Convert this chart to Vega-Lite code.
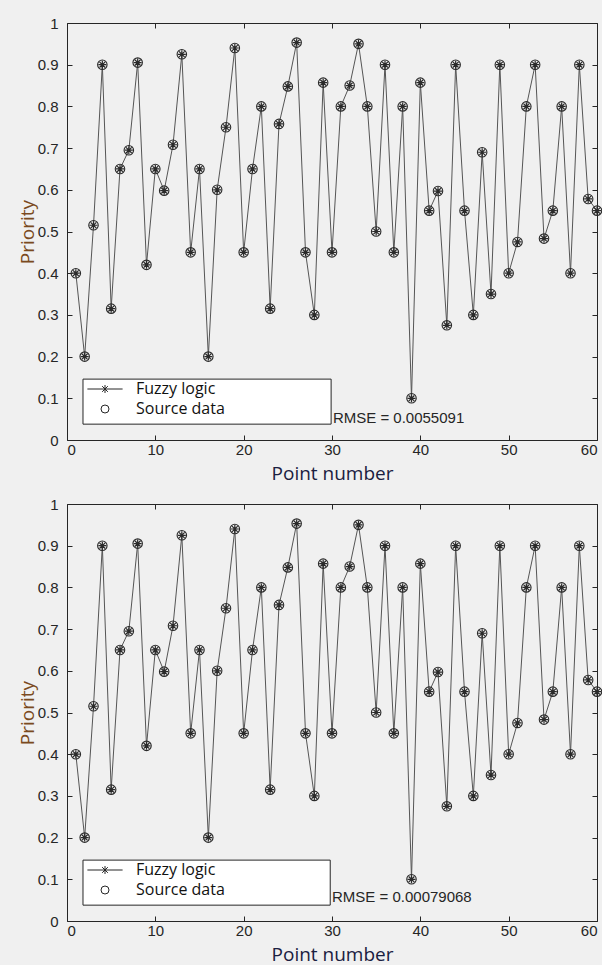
{
  "$schema": "https://vega.github.io/schema/vega-lite/v6.json",
  "background": "#f0f0f0",
  "padding": {"top": 15, "left": 17, "right": 0, "bottom": 0},
  "spacing": 12,
  "datasets": {
    "pts": [
      {"n":1,"v":0.40},{"n":2,"v":0.20},{"n":3,"v":0.515},{"n":4,"v":0.90},{"n":5,"v":0.315},
      {"n":6,"v":0.65},{"n":7,"v":0.695},{"n":8,"v":0.905},{"n":9,"v":0.42},{"n":10,"v":0.65},
      {"n":11,"v":0.598},{"n":12,"v":0.708},{"n":13,"v":0.925},{"n":14,"v":0.45},{"n":15,"v":0.65},
      {"n":16,"v":0.20},{"n":17,"v":0.60},{"n":18,"v":0.75},{"n":19,"v":0.94},{"n":20,"v":0.45},
      {"n":21,"v":0.65},{"n":22,"v":0.80},{"n":23,"v":0.315},{"n":24,"v":0.758},{"n":25,"v":0.848},
      {"n":26,"v":0.953},{"n":27,"v":0.45},{"n":28,"v":0.30},{"n":29,"v":0.857},{"n":30,"v":0.45},
      {"n":31,"v":0.80},{"n":32,"v":0.85},{"n":33,"v":0.95},{"n":34,"v":0.80},{"n":35,"v":0.50},
      {"n":36,"v":0.90},{"n":37,"v":0.45},{"n":38,"v":0.80},{"n":39,"v":0.10},{"n":40,"v":0.857},
      {"n":41,"v":0.55},{"n":42,"v":0.597},{"n":43,"v":0.275},{"n":44,"v":0.90},{"n":45,"v":0.55},
      {"n":46,"v":0.30},{"n":47,"v":0.69},{"n":48,"v":0.35},{"n":49,"v":0.90},{"n":50,"v":0.40},
      {"n":51,"v":0.475},{"n":52,"v":0.80},{"n":53,"v":0.90},{"n":54,"v":0.483},{"n":55,"v":0.55},
      {"n":56,"v":0.80},{"n":57,"v":0.40},{"n":58,"v":0.90},{"n":59,"v":0.578},{"n":60,"v":0.55}
    ],
    "leg": [{"s":"Fuzzy logic"},{"s":"Source data"}],
    "one": [{"a":1}]
  },
  "vconcat": [
    {
      "width": 530, "height": 417,
      "layer": [
        {
          "data": {"name": "one"},
          "mark": {"type": "rect", "fill": "white", "stroke": "#262626", "strokeWidth": 1},
          "encoding": {
            "x": {"datum": 1.81, "type": "quantitative", "axis": {"orient": "top", "labels": false, "title": null, "values": [0,10,20,30,40,50,60], "tickSize": -5, "domain": false, "grid": false}},
            "x2": {"datum": 29.9},
            "y": {"datum": 0.038, "type": "quantitative", "axis": {"orient": "right", "labels": false, "title": null, "values": [0,0.1,0.2,0.3,0.4,0.5,0.6,0.7,0.8,0.9,1], "tickSize": -5, "domain": false, "grid": false}},
            "y2": {"datum": 0.146}
          }
        },
        {
          "data": {"name": "pts"},
          "mark": {"type": "line", "color": "#555555", "strokeWidth": 1},
          "encoding": {
            "x": {"field": "n", "type": "quantitative", "scale": {"domain": [0, 60], "nice": false},
                  "axis": {"title": "Point number", "values": [0,10,20,30,40,50,60], "tickSize": -5, "labelPadding": 7, "domain": false, "grid": false, "titlePadding": 7, "titleColor": "#1a2040"}},
            "y": {"field": "v", "type": "quantitative", "scale": {"domain": [0, 1], "nice": false},
                  "axis": {"title": "Priority", "values": [0,0.1,0.2,0.3,0.4,0.5,0.6,0.7,0.8,0.9,1], "format": "~g", "tickSize": -5, "labelPadding": 14, "domain": false, "grid": false, "titlePadding": 0, "titleColor": "#7a4a20"}}
          }
        },
        {
          "data": {"name": "pts"},
          "mark": {"type": "point", "filled": false, "stroke": "#2a2a2a", "strokeWidth": 1.2, "size": 64, "opacity": 1,
                   "shape": "M-1,0L1,0M0,-1L0,1M-0.71,-0.71L0.71,0.71M-0.71,0.71L0.71,-0.71"},
          "encoding": {
            "x": {"field": "n", "type": "quantitative", "axis": null},
            "y": {"field": "v", "type": "quantitative", "axis": null}
          }
        },
        {
          "data": {"name": "pts"},
          "mark": {"type": "point", "filled": false, "stroke": "#2a2a2a", "strokeWidth": 1.1, "size": 90, "opacity": 1, "shape": "circle"},
          "encoding": {
            "x": {"field": "n", "type": "quantitative", "axis": null},
            "y": {"field": "v", "type": "quantitative", "axis": null}
          }
        },
        {
          "data": {"name": "leg"},
          "mark": {"type": "point", "filled": false, "opacity": 0},
          "encoding": {
            "shape": {"field": "s", "type": "nominal",
              "scale": {"domain": ["Fuzzy logic", "Source data"], "range": ["M-4.4,0L4.4,0M0,-1L0,1M-0.71,-0.71L0.71,0.71M-0.71,0.71L0.71,-0.71", "circle"]},
              "legend": {"title": null, "orient": "none", "legendX": 30, "legendY": 358, "padding": 0, "symbolSize": 64,
                "symbolStrokeColor": "#262626", "symbolFillColor": "transparent", "symbolStrokeWidth": 1, "symbolOpacity": 1,
                "labelFont": "Open Sans", "labelFontSize": 16, "labelColor": "#111111", "labelOffset": 23, "rowPadding": 4}}
          }
        },
        {
          "data": {"name": "one"},
          "mark": {"type": "text", "text": "RMSE = 0.0055091", "align": "left", "baseline": "middle", "font": "Liberation Sans", "fontSize": 15, "color": "#262626"},
          "encoding": {
            "x": {"datum": 30.1, "type": "quantitative", "axis": null},
            "y": {"datum": 0.053, "type": "quantitative", "axis": null}
          }
        }
      ],
      "resolve": {"axis": {"x": "independent", "y": "independent"}}
    },
    {
      "width": 530, "height": 417,
      "layer": [
        {
          "data": {"name": "one"},
          "mark": {"type": "rect", "fill": "white", "stroke": "#262626", "strokeWidth": 1},
          "encoding": {
            "x": {"datum": 1.81, "type": "quantitative", "axis": {"orient": "top", "labels": false, "title": null, "values": [0,10,20,30,40,50,60], "tickSize": -5, "domain": false, "grid": false}},
            "x2": {"datum": 29.8},
            "y": {"datum": 0.038, "type": "quantitative", "axis": {"orient": "right", "labels": false, "title": null, "values": [0,0.1,0.2,0.3,0.4,0.5,0.6,0.7,0.8,0.9,1], "tickSize": -5, "domain": false, "grid": false}},
            "y2": {"datum": 0.146}
          }
        },
        {
          "data": {"name": "pts"},
          "mark": {"type": "line", "color": "#555555", "strokeWidth": 1},
          "encoding": {
            "x": {"field": "n", "type": "quantitative", "scale": {"domain": [0, 60], "nice": false},
                  "axis": {"title": "Point number", "values": [0,10,20,30,40,50,60], "tickSize": -5, "labelPadding": 7, "domain": false, "grid": false, "titlePadding": 7, "titleColor": "#1a2040"}},
            "y": {"field": "v", "type": "quantitative", "scale": {"domain": [0, 1], "nice": false},
                  "axis": {"title": "Priority", "values": [0,0.1,0.2,0.3,0.4,0.5,0.6,0.7,0.8,0.9,1], "format": "~g", "tickSize": -5, "labelPadding": 14, "domain": false, "grid": false, "titlePadding": 0, "titleColor": "#7a4a20"}}
          }
        },
        {
          "data": {"name": "pts"},
          "mark": {"type": "point", "filled": false, "stroke": "#2a2a2a", "strokeWidth": 1.2, "size": 64, "opacity": 1,
                   "shape": "M-1,0L1,0M0,-1L0,1M-0.71,-0.71L0.71,0.71M-0.71,0.71L0.71,-0.71"},
          "encoding": {
            "x": {"field": "n", "type": "quantitative", "axis": null},
            "y": {"field": "v", "type": "quantitative", "axis": null}
          }
        },
        {
          "data": {"name": "pts"},
          "mark": {"type": "point", "filled": false, "stroke": "#2a2a2a", "strokeWidth": 1.1, "size": 90, "opacity": 1, "shape": "circle"},
          "encoding": {
            "x": {"field": "n", "type": "quantitative", "axis": null},
            "y": {"field": "v", "type": "quantitative", "axis": null}
          }
        },
        {
          "data": {"name": "leg"},
          "mark": {"type": "point", "filled": false, "opacity": 0},
          "encoding": {
            "shape": {"field": "s", "type": "nominal",
              "scale": {"domain": ["Fuzzy logic", "Source data"], "range": ["M-4.4,0L4.4,0M0,-1L0,1M-0.71,-0.71L0.71,0.71M-0.71,0.71L0.71,-0.71", "circle"]},
              "legend": {"title": null, "orient": "none", "legendX": 30, "legendY": 358, "padding": 0, "symbolSize": 64,
                "symbolStrokeColor": "#262626", "symbolFillColor": "transparent", "symbolStrokeWidth": 1, "symbolOpacity": 1,
                "labelFont": "Open Sans", "labelFontSize": 16, "labelColor": "#111111", "labelOffset": 23, "rowPadding": 4}}
          }
        },
        {
          "data": {"name": "one"},
          "mark": {"type": "text", "text": "RMSE = 0.00079068", "align": "left", "baseline": "middle", "font": "Liberation Sans", "fontSize": 15, "color": "#262626"},
          "encoding": {
            "x": {"datum": 30.0, "type": "quantitative", "axis": null},
            "y": {"datum": 0.057, "type": "quantitative", "axis": null}
          }
        }
      ],
      "resolve": {"axis": {"x": "independent", "y": "independent"}}
    }
  ],
  "resolve": {"scale": {"shape": "independent"}, "legend": {"shape": "independent"}},
  "config": {
    "view": {"stroke": "#262626", "strokeWidth": 1, "fill": "white"},
    "axis": {"labelFont": "Liberation Sans", "labelFontSize": 15, "labelColor": "#262626", "tickColor": "#262626", "tickWidth": 1,
             "titleFont": "Open Sans", "titleFontSize": 19, "titleFontWeight": "normal"}
  }
}
